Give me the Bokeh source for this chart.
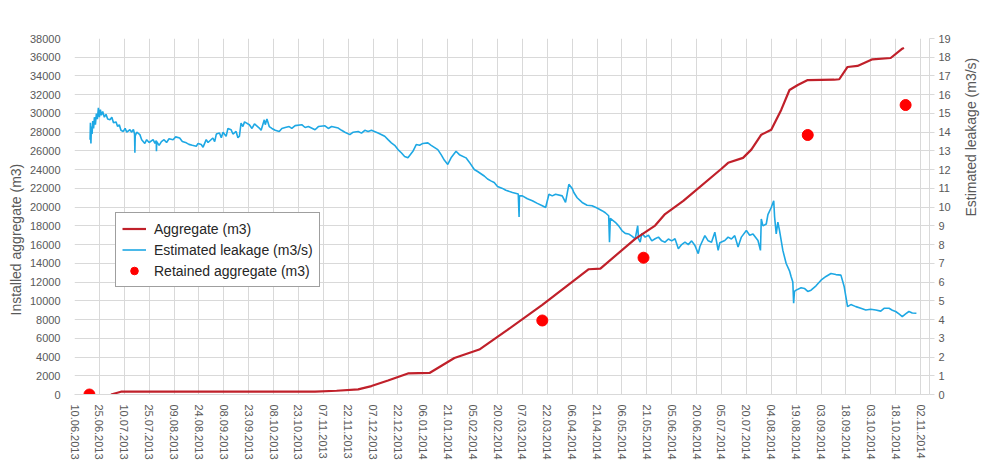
import math
from datetime import datetime, timedelta

from bokeh.embed import file_html
from bokeh.models import (ColumnDataSource, DatetimeTickFormatter, FixedTicker,
                          Legend, LegendItem, LinearAxis, Range1d, SingleIntervalTicker, Title)
from bokeh.plotting import figure
from bokeh.resources import INLINE

# ---------------------------------------------------------------- data
# x-axis tick dates (every 15 days)
tick_labels = [
    "10.06.2013", "25.06.2013", "10.07.2013", "25.07.2013", "09.08.2013",
    "24.08.2013", "08.09.2013", "23.09.2013", "08.10.2013", "23.10.2013",
    "07.11.2013", "22.11.2013", "07.12.2013", "22.12.2013", "06.01.2014",
    "21.01.2014", "05.02.2014", "20.02.2014", "07.03.2014", "22.03.2014",
    "06.04.2014", "21.04.2014", "06.05.2014", "21.05.2014", "05.06.2014",
    "20.06.2014", "05.07.2014", "20.07.2014", "04.08.2014", "19.08.2014",
    "03.09.2014", "18.09.2014", "03.10.2014", "18.10.2014", "02.11.2014",
]

# Installed aggregate (m3), cumulative
aggregate_dates = [
    "02.07.2013", "08.07.2013", "02.11.2013", "15.11.2013", "28.11.2013",
    "06.12.2013", "16.12.2013", "28.12.2013", "10.01.2014", "25.01.2014",
    "09.02.2014", "26.02.2014", "19.03.2014", "16.04.2014", "23.04.2014",
    "14.05.2014", "26.05.2014", "01.06.2014", "12.06.2014", "05.07.2014",
    "09.07.2014", "18.07.2014", "23.07.2014", "29.07.2014", "04.08.2014",
    "10.08.2014", "15.08.2014", "20.08.2014", "26.08.2014", "11.09.2014",
    "14.09.2014", "19.09.2014", "25.09.2014", "04.10.2014", "15.10.2014",
    "22.10.2014", "23.10.2014",
]
aggregate_m3 = [
    0, 300, 300, 400, 550,
    900, 1500, 2250, 2300, 3900,
    4800, 6900, 9560, 13370, 13440,
    16620, 18030, 19260, 20670, 24100,
    24730, 25260, 26140, 27730, 28260,
    30380, 32500, 33030, 33560, 33600,
    33650, 34960, 35070, 35780, 35920,
    36910, 37000,
]

# Retained aggregate (m3)
retained_dates = ["19.06.2013", "19.03.2014", "19.05.2014", "26.08.2014", "24.10.2014"]
retained_m3 = [0, 7900, 14600, 27700, 30900]

# Estimated leakage (m3/s): day offset from 10.06.2013 and value
leak_day = [
    9.4, 9.6, 9.9, 10.2, 10.6, 11.0, 11.5, 12.0, 12.6, 13.2, 13.8, 14.4, 15.0, 15.6,
    16.2, 17.0, 18.0, 19.0, 20.0, 21.4, 22.5, 23.5, 25.0, 26.0, 27.0, 28.0, 29.4,
    30.5, 31.5, 33.4, 34.5, 35.5, 36.2, 36.4, 36.6, 37.5, 39.4, 40.5, 42.4, 43.5,
    45.0, 47.4, 48.5, 49.3, 49.4, 49.6, 51.0, 52.4, 54.0, 55.5, 57.0, 59.4, 61.0,
    63.4, 65.0, 67.4, 69.0, 71.0, 73.4, 74.5, 76.4, 77.5, 79.4, 80.5, 83.4, 84.5,
    85.5, 87.4, 88.5, 89.5, 91.4, 92.5, 94.4, 95.5, 97.4, 98.5, 99.4, 100.4, 101.5,
    102.5, 105.4, 107.0, 108.5, 111.4, 112.5, 113.5, 114.4, 115.0, 116.0, 117.4,
    119.0, 121.0, 123.4, 125.0, 127.0, 129.4, 131.0, 133.0, 137.0, 139.0, 141.0,
    145.0, 147.0, 151.0, 153.0, 155.0, 159.0, 161.0, 163.0, 166.0, 168.0, 171.0,
    173.0, 175.0, 177.0, 179.0, 183.0, 187.0, 189.0, 191.0, 193.0, 195.0, 197.0,
    199.0, 201.0, 204.0, 206.0, 208.0, 210.0, 213.0, 215.0, 219.0, 221.0, 223.0,
    225.0, 227.0, 230.0, 232.0, 236.0, 238.0, 241.0, 243.0, 247.0, 249.0, 251.0,
    253.0, 255.0, 258.0, 260.0, 264.0, 267.5, 268.0, 268.2, 270.0, 273.0, 276.0,
    279.0, 282.0, 284.0, 286.0, 288.0, 290.0, 294.0, 296.0, 298.0, 300.0, 301.0,
    303.0, 306.0, 309.0, 312.0, 315.0, 318.0, 320.0, 322.0, 322.5, 323.0, 326.0,
    328.0, 330.0, 332.0, 334.0, 336.0, 338.0, 339.5, 340.0, 341.0, 342.0, 344.0,
    346.0, 348.0, 350.0, 352.0, 354.0, 356.0, 358.0, 360.0, 362.0, 364.0, 366.0,
    368.0, 370.0, 372.0, 374.0, 376.0, 377.0, 380.0, 382.0, 384.0, 386.0, 388.0,
    389.0, 392.0, 394.0, 396.0, 398.0, 400.0, 402.0, 405.0, 407.0, 409.0, 412.0,
    413.5, 414.0, 415.0, 417.0, 418.0, 420.0, 421.5, 422.0, 423.0, 424.0, 425.0,
    427.0, 429.0, 431.0, 432.0, 433.0, 433.5, 434.0, 435.0, 438.0, 440.0, 442.0,
    444.0, 447.0, 450.0, 453.0, 456.0, 459.0, 462.0, 464.0, 466.0, 468.0, 471.0,
    474.0, 477.0, 480.0, 483.0, 486.0, 488.0, 491.0, 493.0, 495.0, 497.0, 499.0,
    501.0, 503.0, 505.0, 507.5,
]
leak_m3s = [
    13.6, 14.5, 13.4, 14.3, 13.9, 14.6, 14.2, 14.8, 14.4, 15.0, 14.7, 15.3, 14.8, 15.2,
    14.9, 15.1, 14.8, 14.95, 14.7, 14.66, 14.8, 14.5, 14.55, 14.3, 14.4, 14.1, 14.04,
    14.2, 14.0, 14.13, 14.0, 14.15, 13.9, 12.9, 13.8, 14.0, 13.87, 13.6, 13.4, 13.6,
    13.45, 13.6, 13.4, 13.55, 12.98, 13.5, 13.3, 13.5, 13.6, 13.45, 13.65, 13.6, 13.75,
    13.69, 13.5, 13.43, 13.35, 13.3, 13.25, 13.4, 13.34, 13.2, 13.6, 13.45, 13.69, 13.5,
    13.9, 13.96, 13.7, 14.0, 13.78, 14.2, 14.13, 13.9, 14.04, 13.7, 13.78, 14.49, 14.3,
    14.55, 14.4, 14.2, 14.45, 14.22, 14.1, 14.4, 14.66, 14.4, 14.7, 14.3,
    14.2, 14.1, 14.04, 14.2, 14.25, 14.3, 14.2, 14.35, 14.4, 14.25, 14.3,
    14.13, 14.3, 14.34, 14.2, 14.3, 14.22, 14.1, 14.0, 13.87, 14.0, 14.04,
    13.95, 14.1, 14.04, 14.1, 13.96, 13.78, 13.6, 13.43, 13.3, 13.07, 12.9,
    12.7, 12.63, 12.98, 13.34, 13.3, 13.4, 13.43, 13.3, 13.07, 12.8, 12.5,
    12.28, 12.63, 12.98, 12.8, 12.63, 12.4, 12.01, 11.9, 11.66, 11.5, 11.4,
    11.31, 11.1, 11.0, 10.9, 10.78, 10.7, 9.47, 10.6, 10.6, 10.45, 10.34,
    10.2, 10.07, 9.98, 10.69, 10.6, 10.69, 10.6, 10.25, 11.22, 11.0, 10.78,
    10.5, 10.25, 10.1, 10.07, 9.95, 9.81, 9.7, 9.54, 8.13, 9.4, 9.19,
    9.0, 8.75, 8.6, 8.57, 8.45, 8.31, 9.01, 8.3, 8.13, 8.6, 8.4,
    8.5, 8.2, 8.31, 8.4, 8.2, 8.13, 8.3, 8.2, 8.31, 7.78, 8.0,
    8.13, 8.0, 8.2, 7.95, 7.52, 7.9, 8.48, 8.2, 8.13, 8.66, 7.69,
    8.1, 8.22, 8.4, 8.3, 8.48, 7.87, 8.4, 8.75, 8.5, 8.57, 8.22,
    7.69, 9.37, 9.0, 9.1, 9.6, 9.98, 10.34, 9.5, 8.57, 9.2, 8.75,
    7.69, 6.99, 6.6, 6.28, 6.0, 4.87, 5.5, 5.57, 5.7, 5.66, 5.5,
    5.57, 5.8, 6.1, 6.3, 6.46, 6.4, 6.37, 5.75, 4.69, 4.8, 4.69,
    4.6, 4.51, 4.55, 4.51, 4.45, 4.6, 4.6, 4.5, 4.43, 4.3, 4.16,
    4.3, 4.43, 4.35, 4.34,
]

# ---------------------------------------------------------------- helpers
def parse(d):
    return datetime.strptime(d, "%d.%m.%Y")

start = parse(tick_labels[0])
end = start + timedelta(days=515.4)

agg_src = ColumnDataSource(dict(x=[parse(d) for d in aggregate_dates], y=aggregate_m3))
ret_src = ColumnDataSource(dict(x=[parse(d) for d in retained_dates], y=retained_m3))
leak_src = ColumnDataSource(dict(x=[start + timedelta(days=d) for d in leak_day], y=leak_m3s))

FONT = "Liberation Sans"
TXT = "#595959"
GRID = "#d9d9d9"

p = figure(
    width=989, height=462, x_axis_type="datetime",
    x_range=Range1d(start, end), y_range=Range1d(0, 38000),
    output_backend="svg", toolbar_location=None,
    min_border_left=74, min_border_right=56, min_border_top=38, min_border_bottom=65,
    outline_line_color=None, background_fill_color="white", border_fill_color="white",
)
p.extra_y_ranges = {"leak": Range1d(0, 19)}

# ---------------------------------------------------------------- axes
xa = p.xaxis[0]
xa.ticker = FixedTicker(ticks=[parse(t).timestamp() * 1000 for t in tick_labels])
fmt = "%d.%m.%Y"
xa.formatter = DatetimeTickFormatter(
    microseconds=fmt, milliseconds=fmt, seconds=fmt, minsec=fmt, minutes=fmt,
    hourmin=fmt, hours=fmt, days=fmt, months=fmt, years=fmt,
)
xa.major_label_orientation = "vertical"
xa.axis_line_color = GRID
xa.major_tick_line_color = None
xa.minor_tick_line_color = None
xa.major_label_standoff = 4

ya = p.yaxis[0]
ya.ticker = SingleIntervalTicker(interval=2000)
ya.axis_line_color = None
ya.major_tick_line_color = None
ya.minor_tick_line_color = None
ya.major_label_standoff = 8

ra = LinearAxis(y_range_name="leak", ticker=SingleIntervalTicker(interval=1),
                axis_label="Estimated leakage (m3/s)")
ra.axis_line_color = GRID
ra.major_tick_line_color = GRID
ra.major_tick_out = 5
ra.major_tick_in = 0
ra.minor_tick_line_color = None
ra.major_label_standoff = 4
ra.axis_label_standoff = 17
# title reads bottom-to-top, like the left one
ra.axis_label_orientation = math.pi / 2
ra.axis_label_text_font = FONT
ra.axis_label_text_font_size = "14px"
ra.axis_label_text_font_style = "normal"
ra.axis_label_text_color = TXT
p.add_layout(ra, "right")

for ax in (xa, ya, ra):
    ax.major_label_text_font = FONT
    ax.major_label_text_font_size = "11px"
    ax.major_label_text_color = TXT

# left title, a little below the middle of the frame
p.add_layout(Title(
    text="Installed aggregate (m3)", align="left", offset=79, standoff=6,
    text_font=FONT, text_font_size="14px", text_font_style="normal", text_color=TXT,
), "left")

p.xgrid.ticker = xa.ticker
p.ygrid.ticker = ya.ticker
for g in (p.xgrid[0], p.ygrid[0]):
    g.grid_line_color = GRID
    g.grid_line_width = 1

# ---------------------------------------------------------------- glyphs
leak_r = p.line("x", "y", source=leak_src, y_range_name="leak",
                line_color="#1ea8e4", line_width=1.6)
agg_r = p.line("x", "y", source=agg_src, line_color="#c0202a", line_width=2.2)
ret_r = p.scatter("x", "y", source=ret_src, size=11, fill_color="#ff0000",
                  line_color="#ff0000")

legend = Legend(
    items=[
        LegendItem(label="Aggregate (m3)", renderers=[agg_r]),
        LegendItem(label="Estimated leakage (m3/s)", renderers=[leak_r]),
        LegendItem(label="Retained aggregate (m3)", renderers=[ret_r]),
    ],
    location=(41, 107),
    border_line_color="#404040", border_line_width=1,
    background_fill_color="white", background_fill_alpha=1,
    label_text_font=FONT, label_text_font_size="14px", label_text_color="#262626",
    padding=6, spacing=2, label_height=19, glyph_height=19, glyph_width=24,
    label_standoff=8, margin=0,
)
p.add_layout(legend, "center")

open("out.html", "w").write(file_html(p, INLINE))
